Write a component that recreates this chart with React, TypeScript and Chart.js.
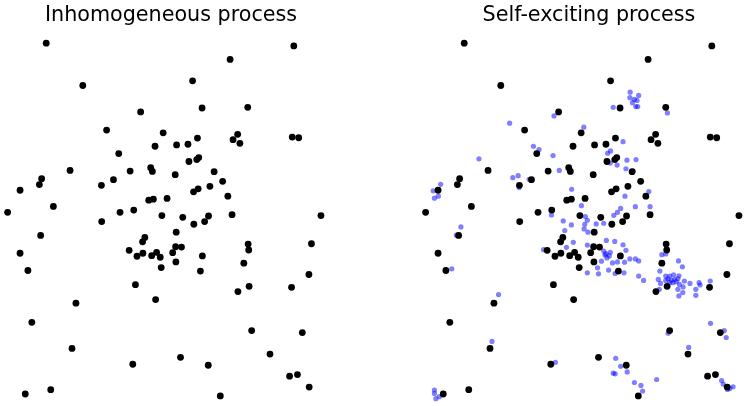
import React, { useEffect, useRef } from "react";
import { Chart, registerables } from "chart.js";

Chart.register(...registerables);

// Panel titles
const panelTitles = ["Inhomogeneous process", "Self-exciting process"];

// Background (immigrant) events, shared by both panels: [x, y] (y grows downward)
const backgroundEvents: [number, number][] = [
  [43.7, 43.3], [81, 86], [140, 112.7], [105.3, 131], [163, 133.7], [154.7, 147.3],
  [117.7, 154.7], [68, 171.7], [129.3, 172.3], [150.3, 169], [152, 172.7], [39, 180],
  [36.7, 186], [112.3, 181], [100, 186.7], [17, 191.7], [148.3, 201.7], [153, 200.7],
  [167, 200], [51, 208], [4.3, 214], [119, 214], [133, 211.7], [161.7, 217.3],
  [100.3, 223.3], [38, 237.3], [144.3, 239.3], [142, 243.7], [128.3, 252.3], [17, 255.3],
  [136.3, 258.3], [142.3, 255.3], [151.3, 257.7], [156.3, 254.3], [160, 259.3], [161, 269.7],
  [25, 272.7], [134.7, 287], [155.3, 302], [74, 305.7], [29, 325], [70, 351.3],
  [132, 367.3], [48.3, 393], [22.3, 397.3],
  [296.3, 46], [231.3, 59.7], [193, 81.3], [202.7, 108.7], [249.3, 108], [198, 139],
  [239, 135.3], [234.3, 140.7], [241.3, 144.3], [294.7, 138], [301.3, 138.7], [176.7, 146],
  [188.3, 145.3], [189.3, 162.7], [197.3, 160.7], [199.3, 158.7], [175.3, 176], [215, 173],
  [223.7, 182.7], [194, 193.3], [198.7, 190.3], [210.7, 187.7], [229, 197.7], [233.3, 216.3],
  [324, 217.3], [183, 219], [194.3, 226], [205.3, 223.3], [209.3, 217.7], [176.3, 234],
  [314.3, 245.7], [249.7, 246], [250.3, 252], [175.7, 248.7], [181.7, 249], [172.7, 254.7],
  [176, 264], [203, 258], [245.3, 265.3], [201, 273.3], [311.7, 276.7], [250.7, 288.7],
  [239.3, 294], [294, 289.7], [253.3, 333.3], [305, 335.3], [180.7, 360.3], [272, 357],
  [209, 368.3], [292, 379.3], [300, 377.7], [312, 390.3], [221.3, 399.3],
];

// Triggered (offspring) events, only in the self-exciting panel
const triggeredEvents: [number, number][] = [
  [90, 124],
  [135.3, 116.7], [165.7, 128], [195.7, 108], [213, 92.7], [212.7, 98.3], [215.3, 103.3],
  [217.3, 100], [218.7, 107.3], [205.7, 142.7], [114.3, 147.3], [120, 150.7], [193, 152],
  [190, 154.3],
  [221.7, 96], [220, 101], [220.7, 107.3], [251, 113.7],
  [58.7, 160], [19.7, 185.7], [12, 192.3], [17.3, 197.7], [13.3, 199.7], [93.3, 179],
  [98.7, 177], [99.7, 189], [110, 180.7], [40.3, 228.7], [35.7, 237], [31, 271],
  [134.3, 156.7], [209.7, 161.3], [219, 160.7], [199.7, 166.3], [192.7, 164.3], [208.7, 170],
  [216, 172.3], [140.7, 171.7], [153.3, 190.7], [207.7, 197.7], [203.3, 210], [218.3, 208.3],
  [163.3, 207.3], [132.7, 216.7], [144.7, 222.7], [153, 226.7], [167.3, 218.3], [169.3, 222],
  [166.7, 226], [166, 230.7], [170, 234], [178.3, 225.7], [186, 225], [196.3, 217],
  [200, 214], [146.3, 232.3], [155, 244.3], [124.7, 251.7], [148, 249.3], [169.3, 247],
  [188.7, 242.3], [197.3, 243.3], [205.7, 246.7], [208.7, 252.3], [186, 253], [188.3, 255.7],
  [191.7, 258], [189.3, 260], [195, 265], [200, 264], [207.3, 264.3], [212.7, 261],
  [218.3, 261], [183.7, 263.3], [179.7, 270], [180.7, 276], [169.3, 275], [191, 272.3],
  [197.7, 275.7], [206.7, 275], [187.3, 257], [192.7, 254.3],
  [232, 193], [233.3, 208.3], [245.3, 256.7], [249.3, 256], [221.7, 263], [262.3, 263],
  [266.3, 269], [243.3, 273.3], [221.7, 278.3], [249.3, 278.3], [253.3, 278.3], [257.3, 277],
  [262.7, 278],
  [226.7, 282.7], [241.7, 281.7], [244, 285.7], [251.7, 281], [255, 282.7], [258.3, 281.7],
  [260, 284], [256.7, 285], [261.7, 281], [263.3, 286.7], [253.3, 285], [249.3, 282.7],
  [268.3, 283.3], [267, 289.3], [266.7, 295], [262.7, 298.3], [261.7, 291.7], [274, 285.7],
  [280, 291.7], [280, 297.7], [283.3, 285], [284.3, 287.3], [294.7, 283.3], [242.7, 291.7],
  [295, 326], [309, 333.3], [311, 340.3], [251.7, 336], [272.7, 350.3], [240, 382.7],
  [224, 388.7], [225.7, 394.3], [306.3, 383.7], [308, 387.3], [314.7, 391.7], [318, 390],
  [312.3, 392.7],
  [78.7, 297], [72, 344.3], [13.3, 393.3], [13.3, 396.7], [14.7, 402], [18.3, 400],
  [136.7, 365.3], [198.3, 361.3], [203.3, 369.3], [210, 375], [195.7, 376.3], [197.7, 377],
  [217.3, 385.7],
];

const toPoints = (arr: [number, number][]) => arr.map(([x, y]) => ({ x, y }));

const PANEL_W = 342;
const PANEL_H = 406;

function Panel({ title, showTriggered, left }: { title: string; showTriggered: boolean; left: number }) {
  const ref = useRef<HTMLCanvasElement | null>(null);
  useEffect(() => {
    if (!ref.current) return;
    const datasets: any[] = [
      {
        label: "background",
        data: toPoints(backgroundEvents),
        backgroundColor: "#000000",
        borderWidth: 0,
        pointRadius: 3.4,
        pointHoverRadius: 3.4,
        clip: false,
      },
    ];
    if (showTriggered) {
      datasets.push({
        label: "triggered",
        data: toPoints(triggeredEvents),
        backgroundColor: "rgba(0,0,255,0.5)",
        borderWidth: 0,
        pointRadius: 2.6,
        pointHoverRadius: 2.6,
        clip: false,
      });
    }
    const chart = new Chart(ref.current, {
      type: "scatter",
      data: { datasets },
      options: {
        responsive: false,
        animation: false,
        events: [],
        layout: { padding: 0 },
        plugins: {
          legend: { display: false },
          tooltip: { enabled: false },
          title: {
            display: true,
            text: title,
            color: "#000000",
            font: { family: "'DejaVu Sans', sans-serif", size: 20.7, weight: "normal", lineHeight: 1.2 },
            padding: { top: 3.2, bottom: 0 },
          },
        },
        scales: {
          x: { type: "linear", min: 0, max: PANEL_W, display: false },
          y: { type: "linear", min: 28, max: PANEL_H, reverse: true, display: false },
        },
      },
    });
    return () => chart.destroy();
  }, [title, showTriggered]);
  return (
    <canvas
      ref={ref}
      width={PANEL_W}
      height={PANEL_H}
      style={{ position: "absolute", left, top: 0, width: PANEL_W, height: PANEL_H }}
    />
  );
}

export default function App() {
  return (
    <div style={{ position: "absolute", left: 0, top: 0, width: 747, height: 406, background: "#fff", overflow: "hidden" }}>
      <Panel title={panelTitles[0]} showTriggered={false} left={0} />
      <Panel title={panelTitles[1]} showTriggered={true} left={418} />
    </div>
  );
}
